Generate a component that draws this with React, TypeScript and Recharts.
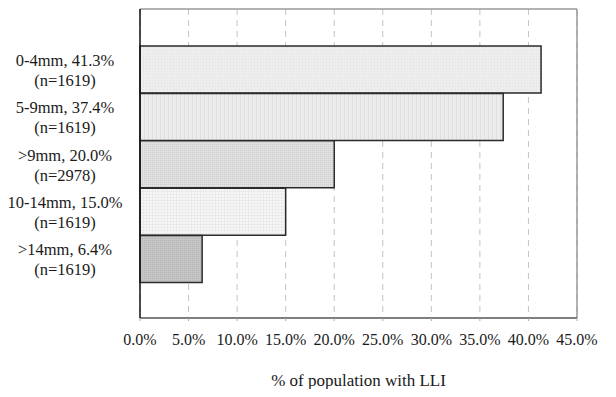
import { BarChart, Bar, XAxis, YAxis, CartesianGrid, Cell } from "recharts";

const categories = ["0-4mm, 41.3%", "5-9mm, 37.4%", ">9mm, 20.0%", "10-14mm, 15.0%", ">14mm, 6.4%"];
const sampleSizes = ["(n=1619)", "(n=1619)", "(n=2978)", "(n=1619)", "(n=1619)"];
const percentages = [41.3, 37.4, 20.0, 15.0, 6.4];
const xTicks = [0, 5, 10, 15, 20, 25, 30, 35, 40, 45];
const fills = ["url(#dots1)", "url(#vstripes)", "url(#dots2)", "url(#grid1)", "url(#dots3)"];

const data = categories.map((name, i) => ({ name, n: sampleSizes[i], value: percentages[i] }));

const font = "Liberation Serif";

function CategoryTick(props: any) {
  const { y, payload } = props;
  const row = data[payload.index] ?? data.find((d) => d.name === payload.value);
  return (
    <g>
      <text x={57} y={y - 4} textAnchor="middle" fontFamily={font} fontSize={16.5} fill="#1a1a1a">
        {payload.value}
      </text>
      <text x={57} y={y + 16} textAnchor="middle" fontFamily={font} fontSize={16.5} fill="#1a1a1a">
        {row ? row.n : ""}
      </text>
    </g>
  );
}

export default function App() {
  return (
    <div>
      <BarChart
        width={600}
        height={381}
        layout="vertical"
        data={data}
        margin={{ top: 1, right: 31, left: 0, bottom: 0 }}
        barCategoryGap={0}
      >
        <defs>
          <pattern id="dots1" width="3" height="3" patternUnits="userSpaceOnUse">
            <rect width="3" height="3" fill="#ededed" />
            <rect width="1" height="1" fill="#e0e0e0" />
          </pattern>
          <pattern id="vstripes" width="4" height="4" patternUnits="userSpaceOnUse">
            <rect width="4" height="4" fill="#ececec" />
            <rect width="1" height="4" fill="#e0e0e0" />
          </pattern>
          <pattern id="dots2" width="2" height="2" patternUnits="userSpaceOnUse">
            <rect width="2" height="2" fill="#e0e0e0" />
            <rect width="1" height="1" fill="#cfcfcf" />
          </pattern>
          <pattern id="grid1" width="3" height="3" patternUnits="userSpaceOnUse">
            <rect width="3" height="3" fill="#f6f6f6" />
            <rect width="3" height="0.6" fill="#e6e6e6" />
            <rect width="0.6" height="3" fill="#e6e6e6" />
          </pattern>
          <pattern id="dots3" width="2" height="2" patternUnits="userSpaceOnUse">
            <rect width="2" height="2" fill="#c6c6c6" />
            <rect width="1" height="1" fill="#b4b4b4" />
          </pattern>
        </defs>
        <CartesianGrid horizontal={false} stroke="#c4c4c4" strokeDasharray="6 5" />
        {/* plot frame: top and right edges */}
        <CartesianGrid
          stroke="#9a9a9a"
          strokeWidth={1.5}
          horizontalCoordinatesGenerator={({ offset }: any) => [offset.top]}
          verticalCoordinatesGenerator={({ offset }: any) => [offset.left + offset.width]}
        />
        <XAxis
          type="number"
          domain={[0, 45]}
          ticks={xTicks}
          interval={0}
          tickFormatter={(v: number) => v.toFixed(1) + "%"}
          height={71}
          axisLine={{ stroke: "#555", strokeWidth: 1.5 }}
          tickLine={{ stroke: "#aaa" }}
          tickSize={3}
          tickMargin={13}
          tick={{ fontFamily: font, fontSize: 16, fill: "#1a1a1a" }}
          label={{
            value: "% of population with LLI",
            position: "insideBottom",
            offset: 3,
            style: { fontFamily: font, fontSize: 17, fill: "#1a1a1a" },
          }}
        />
        <YAxis
          type="category"
          dataKey="name"
          width={132}
          padding={{ top: 37, bottom: 35 }}
          axisLine={{ stroke: "#111", strokeWidth: 1.5 }}
          tickLine={false}
          tick={<CategoryTick />}
          interval={0}
        />
        <Bar dataKey="value" stroke="#2a2a2a" strokeWidth={1.5} isAnimationActive={false}>
          {data.map((d, i) => (
            <Cell key={d.name} fill={fills[i]} />
          ))}
        </Bar>
      </BarChart>
    </div>
  );
}
